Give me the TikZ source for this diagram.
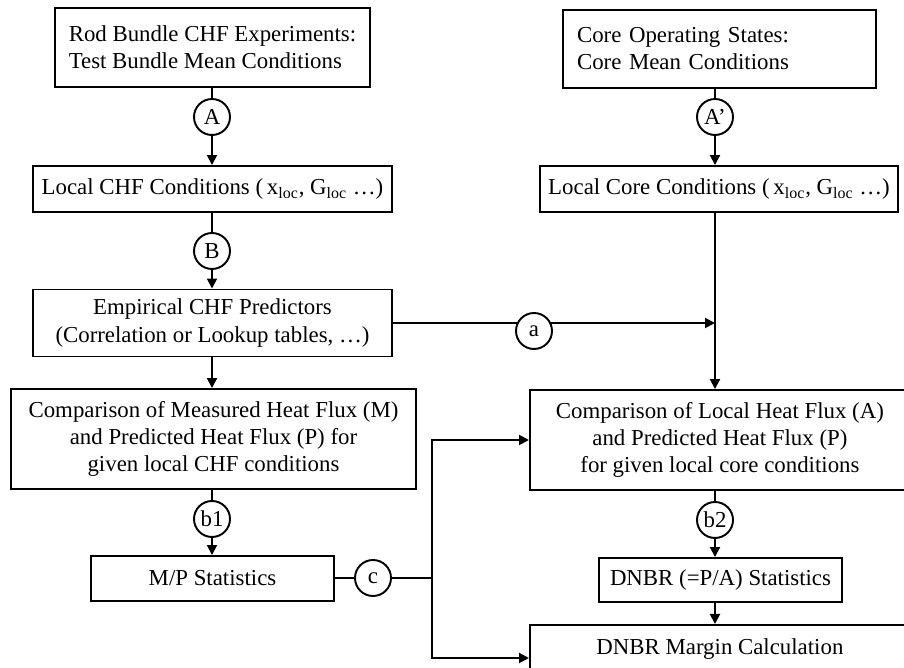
\documentclass[tikz,border=0pt]{standalone}
\usepackage{fontspec}
\setmainfont{Liberation Serif}
\usetikzlibrary{arrows.meta}

\begin{document}
\begin{tikzpicture}[x=0.02cm, y=-0.02cm, line width=1.1pt,
  >={Triangle[length=0.2cm,width=0.2cm]},
  font=\fontsize{13}{15.4}\selectfont,
  box/.style={draw, align=center, inner sep=0pt},
  leftbox/.style={box, align=left, inner xsep=0.28cm},
  tag/.style={draw, circle, minimum size=0.72cm, inner sep=0pt}]
  \useasboundingbox (0,0) rectangle (904,668);
  \clip (0,0) rectangle (904,668);
  % test bundle side
  \node[leftbox, minimum height=1.58cm] (bundle) at (212.5,47.5)
    {Rod Bundle CHF Experiments:\\Test Bundle Mean Conditions};
  \node[tag] (A) at (212,117) {A};
  \node[box, minimum width=7.18cm, minimum height=0.92cm] (localchf) at (212.5,189)
    {Local CHF Conditions (\,x\textsubscript{loc}, G\textsubscript{loc} \dots)};
  \node[tag] (B) at (212,251) {B};
  \node[box, minimum width=7.18cm, minimum height=1.34cm] (pred) at (212.5,323)
    {Empirical CHF Predictors\\(Correlation or Lookup tables, \dots)};
  \node[box, minimum width=8.1cm, minimum height=2cm] (cmpM) at (213.5,439)
    {Comparison of Measured Heat Flux (M)\\and Predicted Heat Flux (P) for\\given local CHF conditions};
  \node[tag] (b1) at (212,519) {b1};
  \node[box, minimum width=4.86cm, minimum height=0.9cm] (mpstat) at (212.5,578.5) {M/P Statistics};
  \node[tag] (c) at (373,578) {c};
  \coordinate (jc) at (432,578);
  \coordinate (jd) at (432,658);
  % core side
  \node[leftbox, text width=5.7cm, minimum height=1.56cm] (core) at (719.5,49)
    {Core Operating States:\\Core Mean Conditions};
  \node[tag] (Ap) at (715,117) {A’};
  \node[box, minimum width=7.16cm, minimum height=0.92cm] (localcore) at (719,189)
    {Local Core Conditions (\,x\textsubscript{loc}, G\textsubscript{loc} \dots)};
  \node[tag] (a) at (534,331) {a};
  \node[box, anchor=west, minimum width=7.6cm, minimum height=2cm] (cmpA) at (529,440)
    {Comparison of Local Heat Flux (A)\\and Predicted Heat Flux (P)\\for given local core conditions};
  \node[tag] (b2) at (715,520) {b2};
  \node[box, minimum width=4.86cm, minimum height=0.88cm] (dnbrstat) at (720.5,580) {DNBR (=P/A) Statistics};
  \node[box, anchor=north west, minimum width=7.6cm, minimum height=0.96cm] (margin) at (529,624)
    {DNBR Margin Calculation};

  \draw (bundle.south -| A) -- (A);
  \draw[->] (A) -- (A |- localchf.north);
  \draw (localchf.south -| B) -- (B);
  \draw[->] (B) -- (B |- pred.north);
  \draw[->] (pred.south -| B) -- (B |- cmpM.north);
  \draw (cmpM.south -| b1) -- (b1);
  \draw[->] (b1) -- (b1 |- mpstat.north);
  \draw (mpstat.east |- c) -- (c) -- (jc);
  \draw[->] (jc) |- (cmpA.west);
  \draw[->] (jc) |- (jd -| margin.west);

  \draw (core.south -| Ap) -- (Ap);
  \draw[->] (Ap) -- (Ap |- localcore.north);
  \draw[->] (localcore.south -| Ap) -- (Ap |- cmpA.north);
  \draw (pred.east) -- (pred.east -| a.150);
  \draw[->] (pred.east -| a.30) -- (pred.east -| Ap);
  \draw (cmpA.south -| b2) -- (b2);
  \draw[->] (b2) -- (b2 |- dnbrstat.north);
  \draw[->] (dnbrstat.south -| b2) -- (b2 |- margin.north);
\end{tikzpicture}
\end{document}
